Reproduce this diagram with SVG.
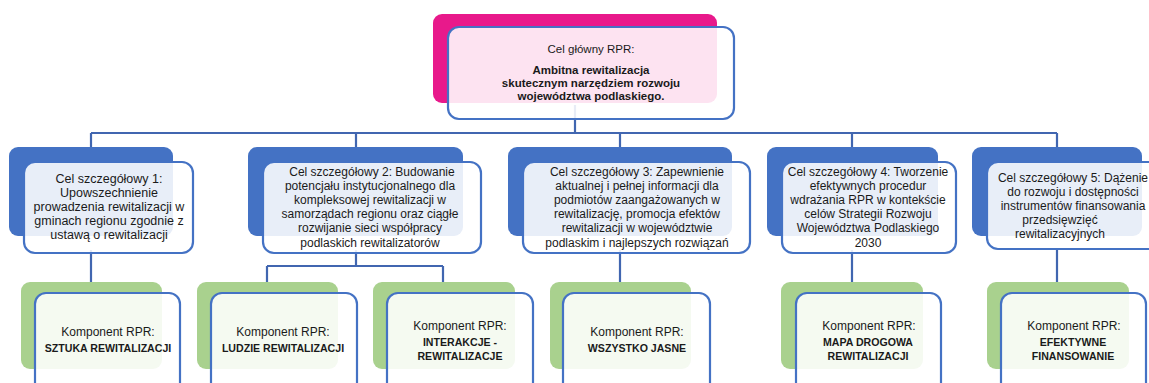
<svg xmlns="http://www.w3.org/2000/svg" width="1149" height="383" viewBox="0 0 1149 383">
<style>
.conn{fill:none;stroke:#4166B0;stroke-width:2.2}
.pink{fill:#E8198B}
.blue{fill:#4472C4}
.green{fill:#A9D18E}
.front{fill:#FFFFFF;fill-opacity:0.88;stroke:#4472C4;stroke-width:2.2}
text{font-family:"Liberation Sans",Arial,sans-serif;fill:#1a1a1a;text-anchor:middle}
.t{font-size:12px}
.t1{font-size:12.5px}
.b{font-size:11.5px;font-weight:bold}
.bc{font-size:10.6px;font-weight:bold}
.r{font-size:11.5px}
</style>
<rect width="1149" height="383" fill="#FFFFFF"/>
<g id="connectors">
<path class="conn" d="M575 105 V133 M91 133 H1057 M91 133 V150 M356 133 V150 M620 133 V150 M852 133 V150 M1057 133 V150"/>
<path class="conn" d="M91 250 V284 M356 250 V266 M267 266 H443 M267 266 V284 M443 266 V284 M620 250 V284 M852 250 V284 M1057 248 V284"/>
</g>
<g id="main">
<rect class="pink" x="433" y="14" width="284" height="89" rx="9"/>
<rect class="front" x="448" y="27" width="286" height="92" rx="11"/>
<text class="r" x="591" y="53">Cel główny RPR:</text>
<text class="b" x="591" y="74">Ambitna rewitalizacja</text>
<text class="b" x="591" y="87">skutecznym narzędziem rozwoju</text>
<text class="b" x="591" y="100">województwa podlaskiego.</text>
</g>
<g id="goal1">
<rect class="blue" x="9" y="147" width="164" height="89" rx="9"/>
<rect class="front" x="24" y="162" width="169" height="91" rx="11"/>
<text class="t1" x="109" y="183">Cel szczegółowy 1:</text>
<text class="t1" x="109" y="197">Upowszechnienie</text>
<text class="t1" x="109" y="211">prowadzenia rewitalizacji w</text>
<text class="t1" x="109" y="225">gminach regionu zgodnie z</text>
<text class="t1" x="109" y="239">ustawą o rewitalizacji</text>
</g>
<g id="goal2">
<rect class="blue" x="248" y="147" width="215" height="89" rx="9"/>
<rect class="front" x="263" y="162" width="218" height="91" rx="11"/>
<text class="t" x="372" y="176">Cel szczegółowy 2: Budowanie</text>
<text class="t" x="370" y="190">potencjału instytucjonalnego dla</text>
<text class="t" x="370" y="204">kompleksowej rewitalizacji w</text>
<text class="t" x="370" y="218">samorządach regionu oraz ciągłe</text>
<text class="t" x="370" y="232">rozwijanie sieci współpracy</text>
<text class="t" x="370" y="247">podlaskich rewitalizatorów</text>
</g>
<g id="goal3">
<rect class="blue" x="508" y="147" width="224" height="89" rx="9"/>
<rect class="front" x="523" y="162" width="227" height="91" rx="11"/>
<text class="t" x="637" y="176">Cel szczegółowy 3: Zapewnienie</text>
<text class="t" x="637" y="190">aktualnej i pełnej informacji dla</text>
<text class="t" x="637" y="204">podmiotów zaangażowanych w</text>
<text class="t" x="637" y="218">rewitalizację, promocja efektów</text>
<text class="t" x="637" y="232">rewitalizacji w województwie</text>
<text class="t" x="637" y="247">podlaskim i najlepszych rozwiązań</text>
</g>
<g id="goal4">
<rect class="blue" x="767" y="147" width="171" height="89" rx="9"/>
<rect class="front" x="782" y="162" width="174" height="91" rx="11"/>
<text class="t" x="868" y="176">Cel szczegółowy 4: Tworzenie</text>
<text class="t" x="868" y="190">efektywnych procedur</text>
<text class="t" x="868" y="204">wdrażania RPR w kontekście</text>
<text class="t" x="868" y="218">celów Strategii Rozwoju</text>
<text class="t" x="868" y="232">Województwa Podlaskiego</text>
<text class="t" x="868" y="247">2030</text>
</g>
<g id="goal5">
<rect class="blue" x="972" y="147" width="170" height="89" rx="9"/>
<rect class="front" x="987" y="162" width="174" height="87" rx="11"/>
<text class="t" x="1073" y="182">Cel szczegółowy 5: Dążenie</text>
<text class="t" x="1073" y="196">do rozwoju i dostępności</text>
<text class="t" x="1073" y="210">instrumentów finansowania</text>
<text class="t" x="1060" y="224">przedsięwzięć</text>
<text class="t" x="1060" y="238">rewitalizacyjnych</text>
</g>
<g id="comp1">
<rect class="green" x="21" y="282" width="141" height="87" rx="9"/>
<rect class="front" x="35" y="293" width="145" height="110" rx="11"/>
<text class="t" x="108" y="336">Komponent RPR:</text>
<text class="bc" x="108" y="352">SZTUKA REWITALIZACJI</text>
</g>
<g id="comp2">
<rect class="green" x="197" y="282" width="141" height="87" rx="9"/>
<rect class="front" x="211" y="293" width="146" height="110" rx="11"/>
<text class="t" x="283" y="336">Komponent RPR:</text>
<text class="bc" x="283" y="352">LUDZIE REWITALIZACJI</text>
</g>
<g id="comp3">
<rect class="green" x="373" y="282" width="142" height="87" rx="9"/>
<rect class="front" x="387" y="293" width="146" height="110" rx="11"/>
<text class="t" x="460" y="330">Komponent RPR:</text>
<text class="bc" x="460" y="346">INTERAKCJE -</text>
<text class="bc" x="460" y="360">REWITALIZACJE</text>
</g>
<g id="comp4">
<rect class="green" x="550" y="282" width="141" height="87" rx="9"/>
<rect class="front" x="563" y="293" width="147" height="110" rx="11"/>
<text class="t" x="637" y="336">Komponent RPR:</text>
<text class="bc" x="637" y="352">WSZYSTKO JASNE</text>
</g>
<g id="comp5">
<rect class="green" x="781" y="282" width="142" height="87" rx="9"/>
<rect class="front" x="796" y="293" width="145" height="110" rx="11"/>
<text class="t" x="869" y="330">Komponent RPR:</text>
<text class="bc" x="868" y="346">MAPA DROGOWA</text>
<text class="bc" x="868" y="360">REWITALIZACJI</text>
</g>
<g id="comp6">
<rect class="green" x="987" y="282" width="142" height="87" rx="9"/>
<rect class="front" x="1001" y="293" width="145" height="110" rx="11"/>
<text class="t" x="1074" y="330">Komponent RPR:</text>
<text class="bc" x="1073" y="346">EFEKTYWNE</text>
<text class="bc" x="1073" y="360">FINANSOWANIE</text>
</g>
</svg>
